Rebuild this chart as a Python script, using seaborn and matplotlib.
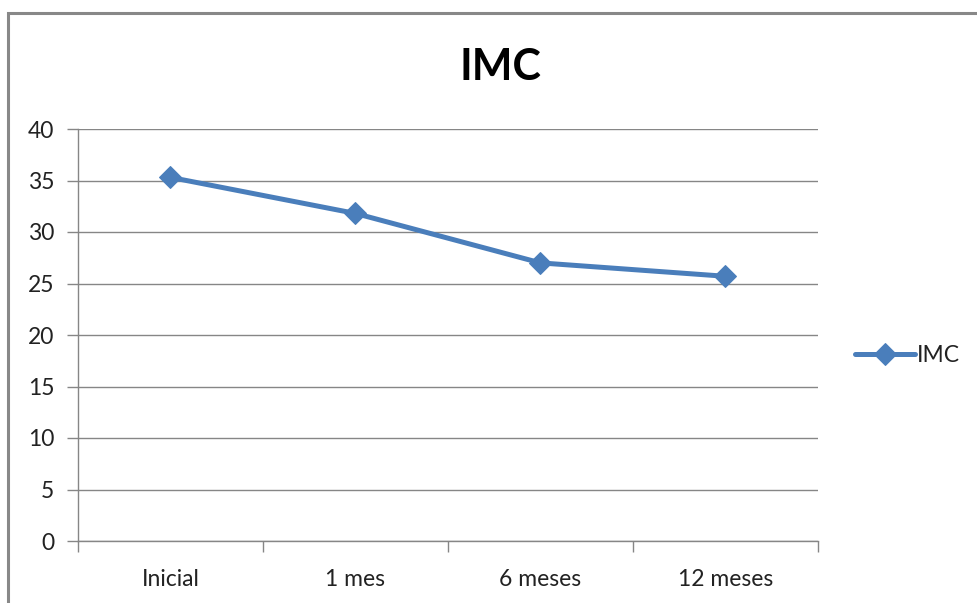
import matplotlib
matplotlib.use("Agg")
import matplotlib.pyplot as plt
import seaborn as sns
import pandas as pd
from matplotlib.patches import Rectangle
from matplotlib.ticker import FixedLocator

# data
categories = ["Inicial", "1 mes", "6 meses", "12 meses"]
imc_values = [35.3, 31.8, 27.0, 25.7]
y_ticks = [0, 5, 10, 15, 20, 25, 30, 35, 40]

LINE_BLUE = "#4A7EBB"
GRID_GRAY = "#868686"

sns.set_theme(style="white")
plt.rcParams["font.family"] = ["Lato", "DejaVu Sans"]

df = pd.DataFrame({"periodo": categories, "IMC": imc_values})

fig = plt.figure(figsize=(9.78, 6.03), dpi=100)
ax = fig.add_axes([78 / 978, 62 / 603, 740 / 978, 412 / 603])

sns.lineplot(data=df, x="periodo", y="IMC", sort=False, ax=ax,
             color=LINE_BLUE, linewidth=3.6, marker="D", markersize=11,
             markeredgecolor=LINE_BLUE, label="IMC")

ax.set_xlim(-0.5, len(categories) - 0.5)
ax.set_ylim(0, 40)
ax.set_yticks(y_ticks)
ax.set_xticks(range(len(categories)))
ax.set_xticklabels(categories)
ax.set_xlabel("")
ax.set_ylabel("")

# gridlines + excel-style ticks at category boundaries
ax.yaxis.grid(True, color=GRID_GRAY, linewidth=1.0)
ax.xaxis.grid(False)
ax.set_axisbelow(True)
for side in ["top", "right"]:
    ax.spines[side].set_visible(False)
for side in ["left", "bottom"]:
    ax.spines[side].set_color(GRID_GRAY)
    ax.spines[side].set_linewidth(1.0)

ax.tick_params(axis="y", which="major", length=8, width=1, color=GRID_GRAY,
               labelsize=16.5, pad=9, labelcolor="#222222", left=True)
ax.tick_params(axis="x", which="major", length=0, labelsize=16.5, pad=20,
               labelcolor="#222222")
ax.xaxis.set_minor_locator(FixedLocator([i - 0.5 for i in range(len(categories) + 1)]))
ax.tick_params(axis="x", which="minor", length=8, width=1, color=GRID_GRAY,
               bottom=True, direction="out")

fig.text(500 / 978, 1 - 67 / 603, "IMC", ha="center", va="center",
         fontsize=31, fontweight="bold", color="black")

leg = ax.legend(loc="center left", bbox_to_anchor=(1.035, 0.45), frameon=False,
                fontsize=16.5, handlelength=2.6, handletextpad=0.1, borderpad=0)
for t in leg.get_texts():
    t.set_color("#222222")

# chart-area border (partly cropped in the reference)
fig.patches.append(Rectangle((8 / 978, -0.05), 1.2, 1 - 13 / 603 + 0.05,
                             transform=fig.transFigure, fill=False,
                             edgecolor="#888888", linewidth=2.2))

fig.savefig("out.png", dpi=100)
